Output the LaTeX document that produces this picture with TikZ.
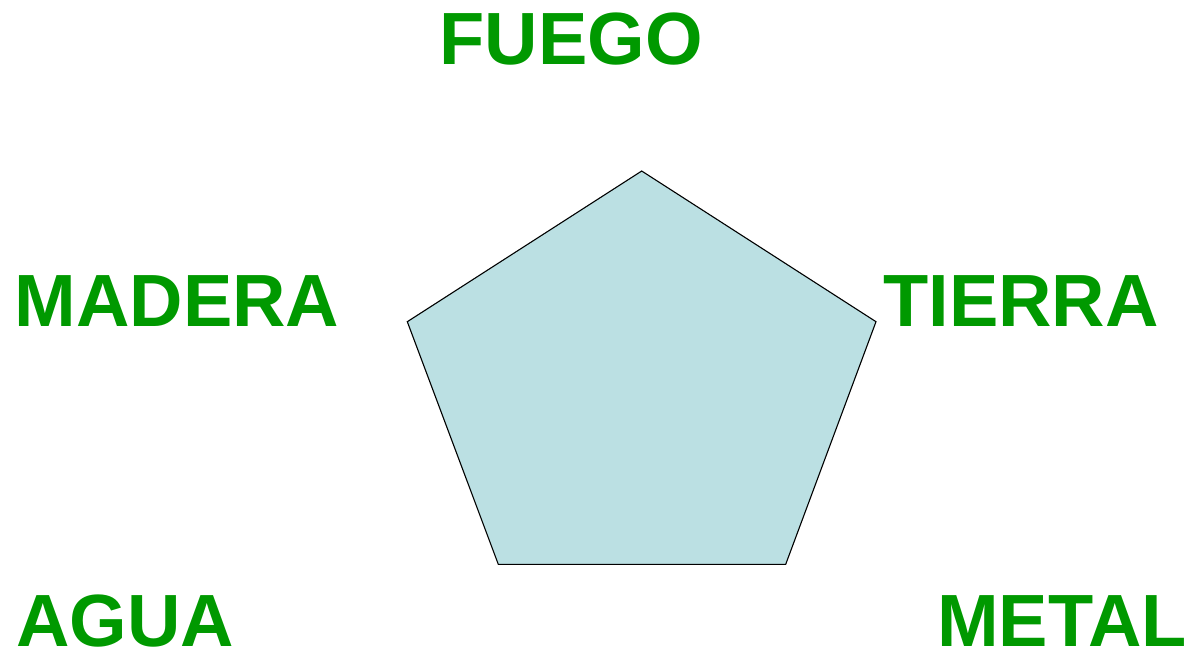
\documentclass[tikz,border=0pt]{standalone}
\usepackage{fontspec}
\setmainfont{Liberation Sans}
\definecolor{elemgreen}{HTML}{009900}
\definecolor{pentafill}{HTML}{BBE0E3}
\begin{document}
\begin{tikzpicture}[x=1pt,y=-1pt,
  elem/.style={text=elemgreen,font=\fontsize{74}{74}\selectfont\bfseries,inner sep=0pt,anchor=base}]
\useasboundingbox (0,0) rectangle (1189,654);
\coordinate (vt) at (641.7,171);
\coordinate (vr) at (876,321.7);
\coordinate (vbr) at (785.7,564.3);
\coordinate (vbl) at (498.3,564.3);
\coordinate (vl) at (407.3,321.7);
\draw[fill=pentafill,line width=1.1pt,line join=miter] (vt) -- (vr) -- (vbr) -- (vbl) -- (vl) -- cycle;
\node[elem] (fuego) at (571,64.5) {FUEGO};
\node[elem] (madera) at (177,326) {MADERA};
\node[elem] (tierra) at (1021,326) {TIERRA};
\node[elem] (agua) at (125,646) {AGUA};
\node[elem] (metal) at (1062,646) {METAL};
\end{tikzpicture}
\end{document}
